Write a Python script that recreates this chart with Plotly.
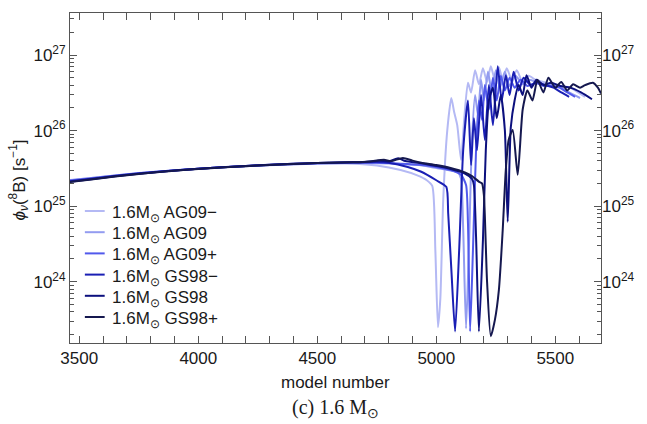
import plotly.graph_objects as go

# ---- data: 8B neutrino flux vs. model number, 1.6 Msun tracks ----
series_names = ["1.6M<sub>⊙</sub> AG09−", "1.6M<sub>⊙</sub> AG09", "1.6M<sub>⊙</sub> AG09+",
                "1.6M<sub>⊙</sub> GS98−", "1.6M<sub>⊙</sub> GS98", "1.6M<sub>⊙</sub> GS98+"]
series_colors = ["#b4b9f4", "#939cf0", "#5159ec", "#1a1fb4", "#0c107e", "#15184f"]

ag09m_model = [3460, 3550, 3650, 3750, 3850, 3950, 4050, 4150, 4250, 4350, 4450, 4550, 4650, 4750, 4850,
               4920, 4960, 4983, 4996, 5007, 5017, 5029, 5046, 5063, 5075, 5088, 5104, 5117, 5133, 5146,
               5163, 5179, 5196, 5213, 5229, 5246, 5263, 5279, 5296, 5317, 5338, 5363, 5388, 5417, 5450,
               5483, 5521, 5563, 5596, 5625]
ag09m_flux = [2.22e25, 2.36e25, 2.55e25, 2.74e25, 2.9e25, 3.06e25, 3.2e25, 3.32e25, 3.43e25, 3.52e25,
              3.6e25, 3.65e25, 3.65e25, 3.45e25, 3.0e25, 2.55e25, 2.2e25, 1.85e25, 2.6e24, 2.5e23,
              6e23, 1.2e25, 1.0e26, 2.7e26, 1.76e26, 1.18e26, 4.1e25, 1.38e26, 4.3e26, 3.2e26,
              6.3e26, 4.1e26, 6.7e26, 4.4e26, 7.1e26, 4.7e26, 6.9e26, 4.7e26, 6.7e26, 4.7e26,
              6.3e26, 4.4e26, 5.3e26, 4.7e26, 4.4e26, 4.1e26, 3.9e26, 3.7e26, 3.2e26, 2.8e26]

ag09_model = [3460, 3550, 3650, 3750, 3850, 3950, 4050, 4150, 4250, 4350, 4450, 4550, 4650, 4750, 4850,
              4940, 5000, 5050, 5092, 5104, 5113, 5125, 5138, 5150, 5163, 5175, 5188, 5200, 5217, 5233,
              5250, 5267, 5288, 5308, 5333, 5363, 5392, 5425, 5458, 5492, 5525, 5558, 5604]
ag09_flux = [2.2e25, 2.35e25, 2.54e25, 2.73e25, 2.9e25, 3.06e25, 3.2e25, 3.33e25, 3.45e25, 3.55e25,
             3.64e25, 3.7e25, 3.72e25, 3.7e25, 3.6e25, 3.45e25, 3.2e25, 3.0e25, 2.8e25, 2.3e25,
             5e24, 2.4e23, 3.6e24, 7.5e25, 2.95e26, 1.6e26, 4.7e26, 2.5e26, 6.0e26, 3.2e26,
             6.3e26, 3.7e26, 6.0e26, 3.9e26, 5.3e26, 4.1e26, 4.7e26, 4.3e26, 4.0e26, 4.1e26,
             3.7e26, 3.2e26, 2.7e26]

ag09p_model = [3460, 3550, 3650, 3750, 3850, 3950, 4050, 4150, 4250, 4350, 4450, 4550, 4650, 4750, 4850,
               4940, 5000, 5060, 5104, 5125, 5133, 5142, 5154, 5167, 5179, 5192, 5204, 5221, 5238, 5254,
               5271, 5288, 5308, 5329, 5354, 5383, 5417, 5450, 5483, 5517, 5550, 5583]
ag09p_flux = [2.18e25, 2.33e25, 2.52e25, 2.72e25, 2.89e25, 3.05e25, 3.2e25, 3.33e25, 3.46e25, 3.56e25,
              3.66e25, 3.73e25, 3.76e25, 3.75e25, 3.65e25, 3.5e25, 3.3e25, 3.0e25, 2.6e25, 1.9e25,
              6e24, 2.2e23, 2.6e24, 5.5e25, 2.5e26, 1.38e26, 4.0e26, 1.9e26, 5.0e26, 2.5e26,
              5.3e26, 3.4e26, 5.0e26, 3.7e26, 4.7e26, 3.9e26, 4.3e26, 3.9e26, 3.9e26, 3.7e26,
              3.2e26, 2.8e26]

gs98m_model = [3460, 3550, 3650, 3750, 3850, 3950, 4050, 4150, 4250, 4350, 4450, 4550, 4650, 4750, 4800,
               4880, 4937, 5000, 5042, 5050, 5063, 5079, 5096, 5113, 5133, 5146, 5158, 5171, 5188, 5204,
               5221, 5238, 5258, 5275, 5292, 5308, 5325, 5346, 5367, 5396, 5425, 5458, 5492, 5525, 5558]
gs98m_flux = [2.14e25, 2.3e25, 2.5e25, 2.7e25, 2.88e25, 3.05e25, 3.2e25, 3.34e25, 3.47e25, 3.58e25,
              3.68e25, 3.76e25, 3.8e25, 3.85e25, 3.75e25, 3.3e25, 2.85e25, 2.2e25, 1.8e25, 8e24,
              1.5e24, 2.2e23, 2.6e24, 5.5e25, 2.5e26, 3.5e25, 1.46e26, 5.5e25, 2.95e26, 7.5e25,
              4.0e26, 1.18e26, 7.1e26, 2.5e26, 5.4e26, 2.95e26, 6.0e26, 3.4e26, 5.0e26, 4.0e26,
              4.4e26, 4.0e26, 3.7e26, 3.2e26, 2.8e26]

gs98_model = [3460, 3550, 3650, 3750, 3850, 3950, 4050, 4150, 4250, 4350, 4450, 4550, 4650, 4700, 4760,
              4800, 4840, 4870, 4937, 5000, 5060, 5120, 5150, 5158, 5167, 5179, 5196, 5208, 5221, 5238,
              5254, 5271, 5288, 5300, 5313, 5329, 5346, 5363, 5379, 5400, 5421, 5450, 5483, 5521, 5563,
              5608, 5654]
gs98_flux = [2.1e25, 2.27e25, 2.48e25, 2.68e25, 2.87e25, 3.04e25, 3.19e25, 3.33e25, 3.46e25, 3.58e25,
             3.68e25, 3.76e25, 3.8e25, 3.85e25, 4.0e25, 3.9e25, 4.3e25, 3.95e25, 3.7e25, 3.4e25,
             3.1e25, 2.7e25, 2.3e25, 1.9e25, 4e24, 2.2e23, 3.6e24, 5.5e25, 2.5e26, 3.7e26,
             1.46e26, 2.95e26, 1.02e26, 6.2e24, 1.1e26, 2.5e26, 4.0e26, 2.95e26, 5.4e26, 3.7e26,
             4.7e26, 4.0e26, 4.3e26, 3.9e26, 3.7e26, 3.2e26, 2.6e26]

gs98p_model = [3460, 3550, 3650, 3750, 3850, 3950, 4050, 4150, 4250, 4350, 4450, 4550, 4650, 4720, 4780,
               4810, 4860, 4900, 4937, 5000, 5060, 5120, 5150, 5180, 5192, 5200, 5213, 5229, 5246, 5263,
               5279, 5292, 5304, 5321, 5342, 5363, 5383, 5404, 5425, 5450, 5471, 5500, 5525, 5550, 5575,
               5604, 5625, 5658, 5679, 5692]
gs98p_flux = [2.08e25, 2.25e25, 2.46e25, 2.66e25, 2.86e25, 3.03e25, 3.18e25, 3.32e25, 3.45e25, 3.57e25,
              3.67e25, 3.75e25, 3.8e25, 3.9e25, 4.1e25, 3.95e25, 4.35e25, 4.0e25, 3.75e25, 3.5e25,
              3.2e25, 2.8e25, 2.5e25, 2.1e25, 2.0e25, 1.4e25, 1.05e24, 1.9e23, 3.1e23, 7.8e23,
              4.8e24, 3.0e25, 7.5e25, 1.02e26, 2.6e25, 1.9e26, 3.4e26, 2.5e26, 4.7e26, 3.2e26,
              5.0e26, 3.7e26, 4.4e26, 3.4e26, 4.1e26, 3.7e26, 4.0e26, 4.3e26, 3.7e26, 3.1e26]

models = [ag09m_model, ag09_model, ag09p_model, gs98m_model, gs98_model, gs98p_model]
fluxes = [ag09m_flux, ag09_flux, ag09p_flux, gs98m_flux, gs98_flux, gs98p_flux]

x_tickvals = [3500, 4000, 4500, 5000, 5500]
y_tickvals = [1e24, 1e25, 1e26, 1e27]
y_ticktext = ["10<sup>24</sup>", "10<sup>25</sup>", "10<sup>26</sup>", "10<sup>27</sup>"]
y_minor = [float(m) * 10.0 ** e for e in range(23, 28) for m in range(2, 10)]

x_range = [3461, 5692]
y_range = [23.189, 27.556]

FONT = "Liberation Sans, Arial, sans-serif"
AX = "#555555"

# plot-area geometry in pixels (used to place the hand-built legend)
W, H = 647, 424
ML, MR, MT, MB = 70, 41, 13, 81
PW, PH = W - ML - MR, H - MT - MB


def px_to_paper_x(px):
    return (px - ML) / PW


def py_to_paper_y(py):
    return (H - MB - py) / PH


fig = go.Figure()
for name, color, xs, ys in zip(series_names, series_colors, models, fluxes):
    fig.add_trace(go.Scatter(x=xs, y=ys, mode="lines", name=name, showlegend=False,
                             line=dict(color=color, width=2, shape="spline", smoothing=0.6)))

# companion trace so the right-hand labelled axis is drawn
fig.add_trace(go.Scatter(x=[x_range[0]], y=[1e25], yaxis="y2", mode="markers",
                         marker=dict(opacity=0), showlegend=False, hoverinfo="skip"))

fig.update_layout(
    width=W, height=H,
    margin=dict(l=ML, r=MR, t=MT, b=MB),
    paper_bgcolor="white", plot_bgcolor="white",
    font=dict(family=FONT, size=17, color="#1a1a1a"),
    xaxis=dict(range=x_range, tickmode="array", tickvals=x_tickvals,
               ticks="inside", ticklen=7, tickcolor=AX, tickwidth=1,
               minor=dict(dtick=100, tick0=3500, ticks="inside", ticklen=4, tickcolor=AX),
               showline=True, linecolor=AX, linewidth=1, mirror="allticks",
               showgrid=False, zeroline=False, tickfont=dict(size=17)),
    yaxis=dict(type="log", range=y_range, tickmode="array", tickvals=y_tickvals,
               ticktext=y_ticktext, ticks="inside", ticklen=7, tickcolor=AX,
               minor=dict(tickmode="array", tickvals=y_minor, ticks="inside", ticklen=4, tickcolor=AX),
               showline=True, linecolor=AX, linewidth=1, mirror="allticks",
               showgrid=False, zeroline=False, tickfont=dict(size=17)),
    yaxis2=dict(type="log", range=y_range, overlaying="y", side="right",
                tickmode="array", tickvals=y_tickvals, ticktext=y_ticktext,
                ticks="", showline=False, showgrid=False, zeroline=False,
                tickfont=dict(size=17)),
)

# legend: short line sample + label for each track
row0, row_gap = 211, 21.2
for i, (name, color) in enumerate(zip(series_names, series_colors)):
    yc = row0 + i * row_gap
    fig.add_shape(type="line", xref="paper", yref="paper",
                  x0=px_to_paper_x(85), x1=px_to_paper_x(105),
                  y0=py_to_paper_y(yc), y1=py_to_paper_y(yc),
                  line=dict(color=color, width=2))
    fig.add_annotation(text=name, xref="paper", yref="paper",
                       x=px_to_paper_x(110), y=py_to_paper_y(yc + 3),
                       xanchor="left", yanchor="middle", showarrow=False,
                       font=dict(size=17, family=FONT))

fig.add_annotation(text="<i>ϕ</i><sub><i>ν</i></sub>(<sup>8</sup>B) [s<sup>−1</sup>]",
                   xref="paper", yref="paper", x=px_to_paper_x(18), y=py_to_paper_y(180),
                   textangle=-90, showarrow=False, xanchor="center", yanchor="middle",
                   font=dict(size=17, family=FONT))
fig.add_annotation(text="model number", xref="paper", yref="paper",
                   x=0.5, y=py_to_paper_y(382),
                   showarrow=False, xanchor="center", yanchor="middle",
                   font=dict(size=17, family=FONT))
fig.add_annotation(text="(c) 1.6 M<sub>⊙</sub>", xref="paper", yref="paper",
                   x=0.5, y=py_to_paper_y(408),
                   showarrow=False, xanchor="center", yanchor="middle",
                   font=dict(size=20, family="Liberation Serif, Times New Roman, serif"))

fig.write_html("out.html")
